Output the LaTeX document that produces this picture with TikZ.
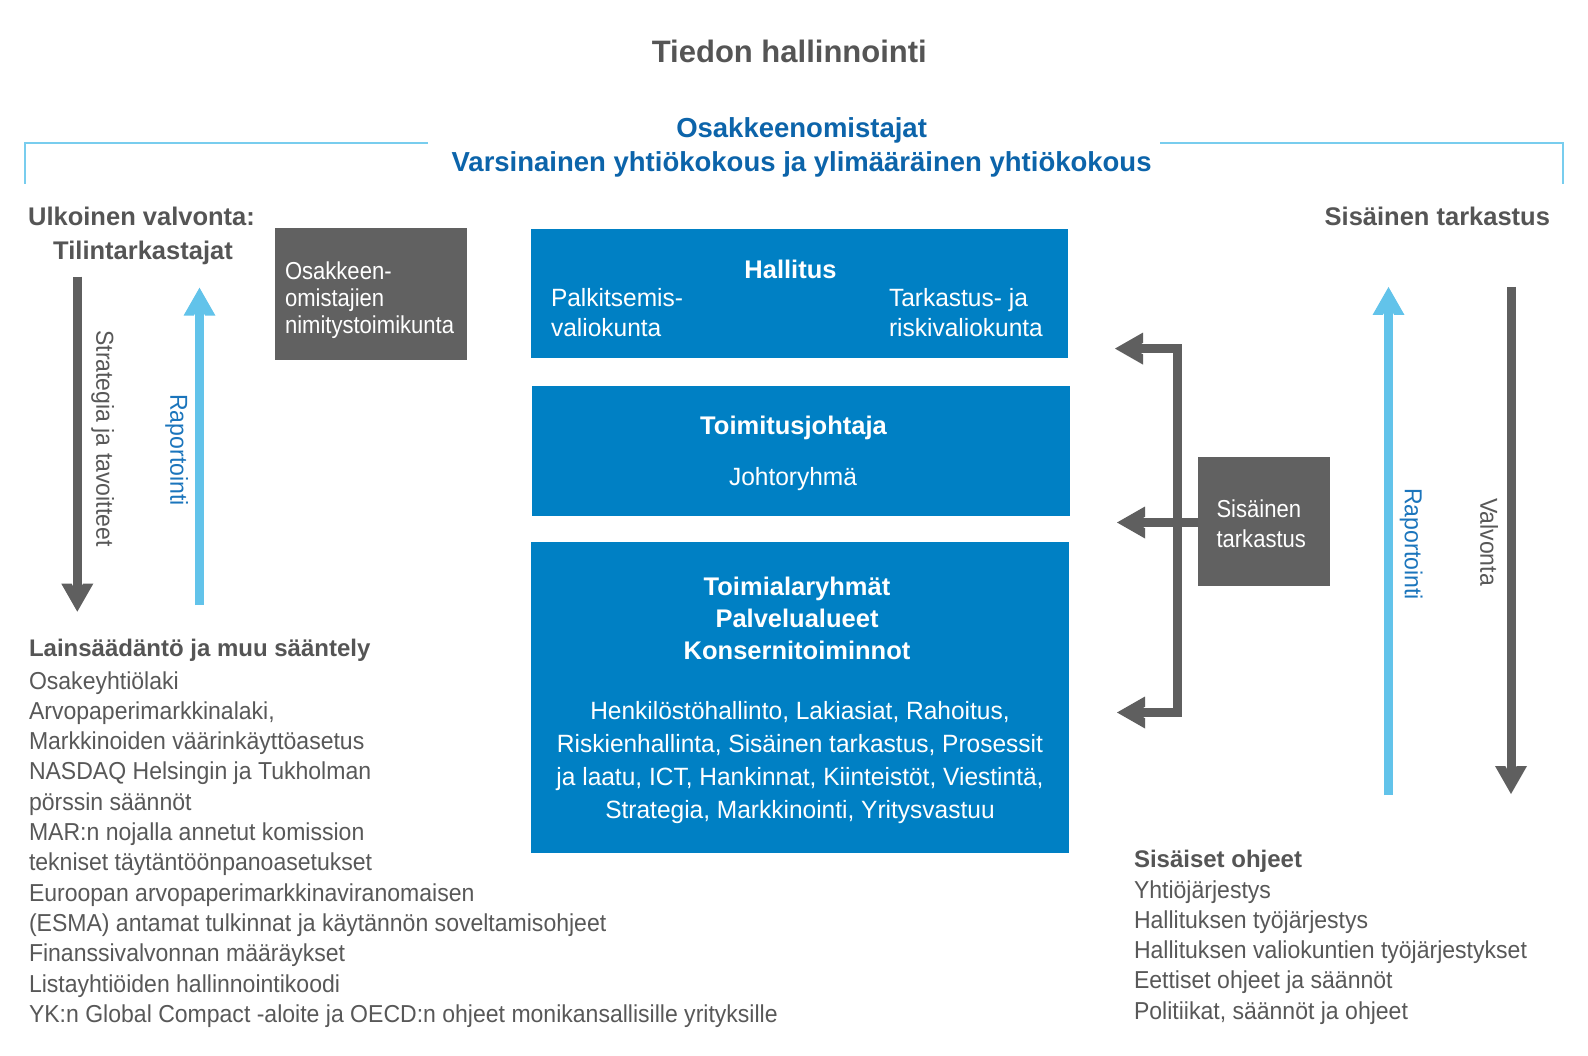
\documentclass[tikz,border=0pt]{standalone}
\usepackage{fontspec}
\setmainfont{Liberation Sans}
\newfontfamily\lfont{Liberation Sans}[FakeStretch=0.94]
\newfontfamily\bxfont{Liberation Sans}[FakeStretch=0.98]
\newfontfamily\gxfont{Liberation Sans}[FakeStretch=0.90]
\definecolor{boxblue}{RGB}{0,128,196}
\definecolor{boxgray}{RGB}{97,97,97}
\definecolor{arrowgray}{RGB}{95,95,95}
\definecolor{arrowblue}{RGB}{98,195,234}
\definecolor{bracketblue}{RGB}{120,205,238}
\definecolor{headblue}{RGB}{12,100,170}
\definecolor{labelblue}{RGB}{27,117,188}
\definecolor{headgray}{RGB}{85,85,85}
\definecolor{listgray}{RGB}{88,88,88}
\begin{document}
\begin{tikzpicture}[x=1pt,y=-1pt,
  txt/.style={inner sep=0pt, outer sep=0pt},
  listline/.style={txt, anchor=base west, text=listgray, font=\lfont\fontsize{24.5}{29}\selectfont},
  listhead/.style={txt, anchor=base west, text=headgray, font=\bfseries\fontsize{24}{29}\selectfont},
  sidehead/.style={txt, anchor=base, text=headgray, font=\bfseries\fontsize{25.5}{30}\selectfont},
  bluehead/.style={txt, anchor=base, text=headblue, font=\bfseries\fontsize{27.5}{32}\selectfont},
  rect/.style={inner sep=0pt, outer sep=0pt, anchor=north west, draw=none},
  bluebox/.style={rect, fill=boxblue},
  graybox/.style={rect, fill=boxgray},
  boxbold/.style={txt, anchor=base, text=white, font=\bfseries\fontsize{25.5}{30}\selectfont},
  boxreg/.style={txt, text=white, font=\bxfont\fontsize{25}{30}\selectfont},
  grayreg/.style={txt, anchor=base west, text=white, font=\gxfont\fontsize{24.5}{29}\selectfont},
  vlabel/.style={txt, anchor=mid, rotate=-90, font=\lfont\fontsize{24.5}{29}\selectfont},
  garrow/.style={draw=arrowgray, line width=9pt, line cap=butt, line join=miter},
  barrow/.style={draw=arrowblue, line width=9pt, line cap=butt, line join=miter},
  bracketline/.style={draw=bracketblue, line width=2.5pt, line join=miter},
  chevg/.pic={\fill[arrowgray] (0,0) -- (-28,16) -- (-28,5.7) -- (-18,0) -- (-28,-5.7) -- (-28,-16) -- cycle;},
  chevb/.pic={\fill[arrowblue] (0,0) -- (-28,16) -- (-28,5.7) -- (-18,0) -- (-28,-5.7) -- (-28,-16) -- cycle;}
]
\useasboundingbox (0,0) rectangle (1588,1056);
\fill[white] (0,0) rectangle (1588,1056);

% title
\node[txt, anchor=base, text=headgray, font=\bfseries\fontsize{31}{36}\selectfont] (title) at (789.3,63) {Tiedon hallinnointi};

% shareholders
\node[bluehead] (osak) at (801.6,137.5) {Osakkeenomistajat};
\node[bluehead] (yk) at (801.6,171.5) {Varsinainen yhtiökokous ja ylimääräinen yhtiökokous};

% bracket lines
\coordinate (brl1) at (25,184);
\coordinate (brl2) at (25,143);
\coordinate (brl3) at (428,143);
\coordinate (brr1) at (1160,143);
\coordinate (brr2) at (1563,143);
\coordinate (brr3) at (1563,184);
\draw[bracketline] (brl1) -- (brl2) -- (brl3);
\draw[bracketline] (brr1) -- (brr2) -- (brr3);

% side headings
\node[sidehead] (ulk1) at (141.5,226) {Ulkoinen valvonta:};
\node[sidehead] (ulk2) at (143,259.3) {Tilintarkastajat};
\node[sidehead, anchor=base east] (sishead) at (1550,226) {Sisäinen tarkastus};

% nomination committee box
\node[graybox, minimum width=192, minimum height=132] (nim) at (275,228) {};
\node[grayreg] (nim1) at (285,279.3) {Osakkeen-};
\node[grayreg] (nim2) at (285,306.5) {omistajien};
\node[grayreg] (nim3) at (285,333.5) {nimitystoimikunta};

% board box
\node[bluebox, minimum width=537, minimum height=129] (hall) at (531,229.5) {};
\node[boxbold] (hallt) at (790.5,279) {Hallitus};
\node[boxreg, anchor=base west] (pal1) at (551,306.5) {Palkitsemis-};
\node[boxreg, anchor=base west] (pal2) at (551,336.7) {valiokunta};
\node[boxreg, anchor=base west] (tar1) at (889,306.5) {Tarkastus- ja};
\node[boxreg, anchor=base west] (tar2) at (889,336.7) {riskivaliokunta};

% CEO box
\node[bluebox, minimum width=538.5, minimum height=130] (toim) at (531.5,386) {};
\node[boxbold] (toimt) at (793.5,434.5) {Toimitusjohtaja};
\node[boxreg, anchor=base] (joht) at (793,485) {Johtoryhmä};

% business box
\node[bluebox, minimum width=538, minimum height=311] (bus) at (530.7,541.8) {};
\node[boxbold] (bus1) at (797,595) {Toimialaryhmät};
\node[boxbold] (bus2) at (797,627) {Palvelualueet};
\node[boxbold] (bus3) at (797,659.3) {Konsernitoiminnot};
\node[boxreg, anchor=base] (bus4) at (800,719.3) {Henkilöstöhallinto, Lakiasiat, Rahoitus,};
\node[boxreg, anchor=base] (bus5) at (800,752.3) {Riskienhallinta, Sisäinen tarkastus, Prosessit};
\node[boxreg, anchor=base] (bus6) at (800,785.5) {ja laatu, ICT, Hankinnat, Kiinteistöt, Viestintä,};
\node[boxreg, anchor=base] (bus7) at (800,818.3) {Strategia, Markkinointi, Yritysvastuu};

% internal audit box
\node[graybox, minimum width=132, minimum height=129] (sis) at (1198,457) {};
\node[grayreg] (sis1) at (1216.5,517) {Sisäinen};
\node[grayreg] (sis2) at (1216.5,547) {tarkastus};

% left arrows
\coordinate (ldTop) at (77.3,276.7);
\coordinate (ldEnd) at (77.3,600);
\coordinate (ldTip) at (77.3,611.7);
\draw[garrow] (ldTop) -- (ldEnd);
\pic[rotate=-90] at (ldTip) {chevg};
\coordinate (lbBot) at (199.5,605);
\coordinate (lbEnd) at (199.5,300);
\coordinate (lbTip) at (199.5,287.7);
\draw[barrow] (lbBot) -- (lbEnd);
\pic[rotate=90] at (lbTip) {chevb};
\node[vlabel, text=listgray] (strat) at (99,438.5) {Strategia ja tavoitteet};
\node[vlabel, text=labelblue] (rapl) at (173,450) {Raportointi};

% right arrows
\coordinate (rbBot) at (1388.5,795);
\coordinate (rbEnd) at (1388.5,299);
\coordinate (rbTip) at (1388.5,287);
\draw[barrow] (rbBot) -- (rbEnd);
\pic[rotate=90] at (rbTip) {chevb};
\coordinate (rdTop) at (1511,287);
\coordinate (rdEnd) at (1511,782);
\coordinate (rdTip) at (1511,794);
\draw[garrow] (rdTop) -- (rdEnd);
\pic[rotate=-90] at (rdTip) {chevg};
\node[vlabel, text=labelblue] (rapr) at (1407.5,544) {Raportointi};
\node[vlabel, text=listgray] (valv) at (1483,542) {Valvonta};

% internal audit bracket
\coordinate (btTip) at (1115,348.6);
\coordinate (btEnd) at (1127,348.6);
\coordinate (bc1) at (1177.5,348.6);
\coordinate (bc2) at (1177.5,712.5);
\coordinate (bbEnd) at (1129,712.5);
\coordinate (bbTip) at (1117,712.5);
\coordinate (bmEnd) at (1129,522.5);
\coordinate (bmTip) at (1117,522.5);
\draw[garrow] (btEnd) -- (bc1) -- (bc2) -- (bbEnd);
\draw[garrow] (sis.west |- bmEnd) -- (bmEnd);
\pic[rotate=180] at (btTip) {chevg};
\pic[rotate=180] at (bmTip) {chevg};
\pic[rotate=180] at (bbTip) {chevg};

% legislation list
\node[listhead] (lh) at (29,656) {Lainsäädäntö ja muu sääntely};
\node[listline] (l1) at (29,689) {Osakeyhtiölaki};
\node[listline] (l2) at (29,719.3) {Arvopaperimarkkinalaki,};
\node[listline] (l3) at (29,749.6) {Markkinoiden väärinkäyttöasetus};
\node[listline] (l4) at (29,779.9) {NASDAQ Helsingin ja Tukholman};
\node[listline] (l5) at (29,810.2) {pörssin säännöt};
\node[listline] (l6) at (29,840.5) {MAR:n nojalla annetut komission};
\node[listline] (l7) at (29,870.8) {tekniset täytäntöönpanoasetukset};
\node[listline] (l8) at (29,901.1) {Euroopan arvopaperimarkkinaviranomaisen};
\node[listline] (l9) at (29,931.4) {(ESMA) antamat tulkinnat ja käytännön soveltamisohjeet};
\node[listline] (l10) at (29,961.7) {Finanssivalvonnan määräykset};
\node[listline] (l11) at (29,992) {Listayhtiöiden hallinnointikoodi};
\node[listline] (l12) at (29,1022.3) {YK:n Global Compact -aloite ja OECD:n ohjeet monikansallisille yrityksille};

% internal guidelines list
\node[listhead] (rh) at (1134,867) {Sisäiset ohjeet};
\node[listline] (r1) at (1134,898) {Yhtiöjärjestys};
\node[listline] (r2) at (1134,928.3) {Hallituksen työjärjestys};
\node[listline] (r3) at (1134,958.6) {Hallituksen valiokuntien työjärjestykset};
\node[listline] (r4) at (1134,988.9) {Eettiset ohjeet ja säännöt};
\node[listline] (r5) at (1134,1019.2) {Politiikat, säännöt ja ohjeet};
\end{tikzpicture}
\end{document}
